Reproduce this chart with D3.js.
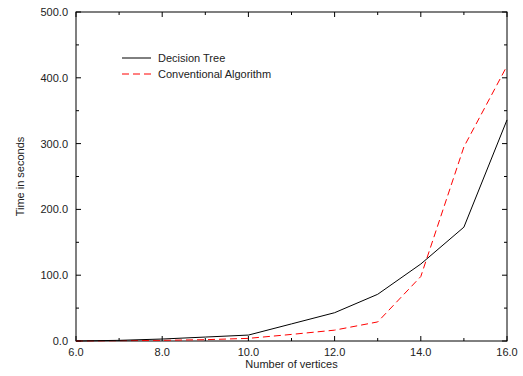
<html lang="en">
<head>
<meta charset="UTF-8">
<title>Decision Tree vs Conventional</title>
<script src="https://cdn.jsdelivr.net/npm/d3@7"></script>
<style>
html,body {margin:0;padding:0;background:#fff;}
svg text {font-family:"Liberation Sans", Arial, sans-serif;font-size:11px;fill:#222;}
</style>
</head>
<body>
<div id="chart"></div>
<script>
const vertices = [6, 7, 8, 9, 10, 11, 12, 13, 14, 15, 16];
const decisionTree = [0, 1, 3, 6, 9, 26, 43, 71, 117, 173, 336];
const conventional = [0, 0.5, 1, 2, 4, 10, 16.5, 29, 98, 295, 418];
const xTicks = [6, 8, 10, 12, 14, 16];
const yTicks = [0, 100, 200, 300, 400, 500];

const W = 523, H = 376;
const m = {left: 76, right: 16, top: 12, bottom: 35};

const svg = d3.select('#chart').append('svg')
	.attr('width', W)
	.attr('height', H);

const x = d3.scaleLinear().domain([6, 16]).range([m.left, W - m.right]);
const y = d3.scaleLinear().domain([0, 500]).range([H - m.bottom, m.top]);

const g = svg.append('g');

// frame
g.append('rect')
	.attr('x', x(6)).attr('y', y(500))
	.attr('width', x(16) - x(6)).attr('height', y(0) - y(500))
	.attr('fill', 'none').attr('stroke', '#000').attr('stroke-width', 1);

// ticks, pointing inward on all four sides
const minorX = d3.range(6, 16.01, 1);
const minorY = d3.range(0, 500.1, 50);
minorX.forEach(function (v) {
	let len = xTicks.includes(v) ? 5 : 3;
	g.append('line').attr('x1', x(v)).attr('x2', x(v)).attr('y1', y(0)).attr('y2', y(0) - len).attr('stroke', '#000');
	g.append('line').attr('x1', x(v)).attr('x2', x(v)).attr('y1', y(500)).attr('y2', y(500) + len).attr('stroke', '#000');
});
minorY.forEach(function (v) {
	let len = yTicks.includes(v) ? 5 : 3;
	g.append('line').attr('y1', y(v)).attr('y2', y(v)).attr('x1', x(6)).attr('x2', x(6) + len).attr('stroke', '#000');
	g.append('line').attr('y1', y(v)).attr('y2', y(v)).attr('x1', x(16)).attr('x2', x(16) - len).attr('stroke', '#000');
});

// tick labels
xTicks.forEach(function (v) {
	g.append('text').attr('x', x(v)).attr('y', y(0) + 15)
		.attr('text-anchor', 'middle').text(v.toFixed(1));
});
yTicks.forEach(function (v) {
	g.append('text').attr('x', x(6) - 8).attr('y', y(v) + 4)
		.attr('text-anchor', 'end').text(v.toFixed(1));
});

// axis titles
g.append('text').attr('x', (x(6) + x(16)) / 2).attr('y', H - 8)
	.attr('text-anchor', 'middle').text('Number of vertices');
g.append('text')
	.attr('transform', 'translate(24,' + ((y(0) + y(500)) / 2) + ') rotate(-90)')
	.attr('text-anchor', 'middle').text('Time in seconds');

// lines
const line = d3.line().x(function (d) { return x(d[0]); }).y(function (d) { return y(d[1]); });

g.append('path')
	.datum(vertices.map(function (v, i) { return [v, conventional[i]]; }))
	.attr('d', line).attr('fill', 'none').attr('stroke', '#ff0000')
	.attr('stroke-width', 1).attr('stroke-dasharray', '7,4');

g.append('path')
	.datum(vertices.map(function (v, i) { return [v, decisionTree[i]]; }))
	.attr('d', line).attr('fill', 'none').attr('stroke', '#000')
	.attr('stroke-width', 1);

// legend
const legend = [
	{name: 'Decision Tree', color: '#000', dash: null},
	{name: 'Conventional Algorithm', color: '#ff0000', dash: '7,4'}
];
legend.forEach(function (d, i) {
	let ly = 58 + i * 16;
	g.append('line').attr('x1', 122).attr('x2', 151).attr('y1', ly).attr('y2', ly)
		.attr('stroke', d.color).attr('stroke-dasharray', d.dash);
	g.append('text').attr('x', 158).attr('y', ly + 4).text(d.name);
});
</script>
</body>
</html>
